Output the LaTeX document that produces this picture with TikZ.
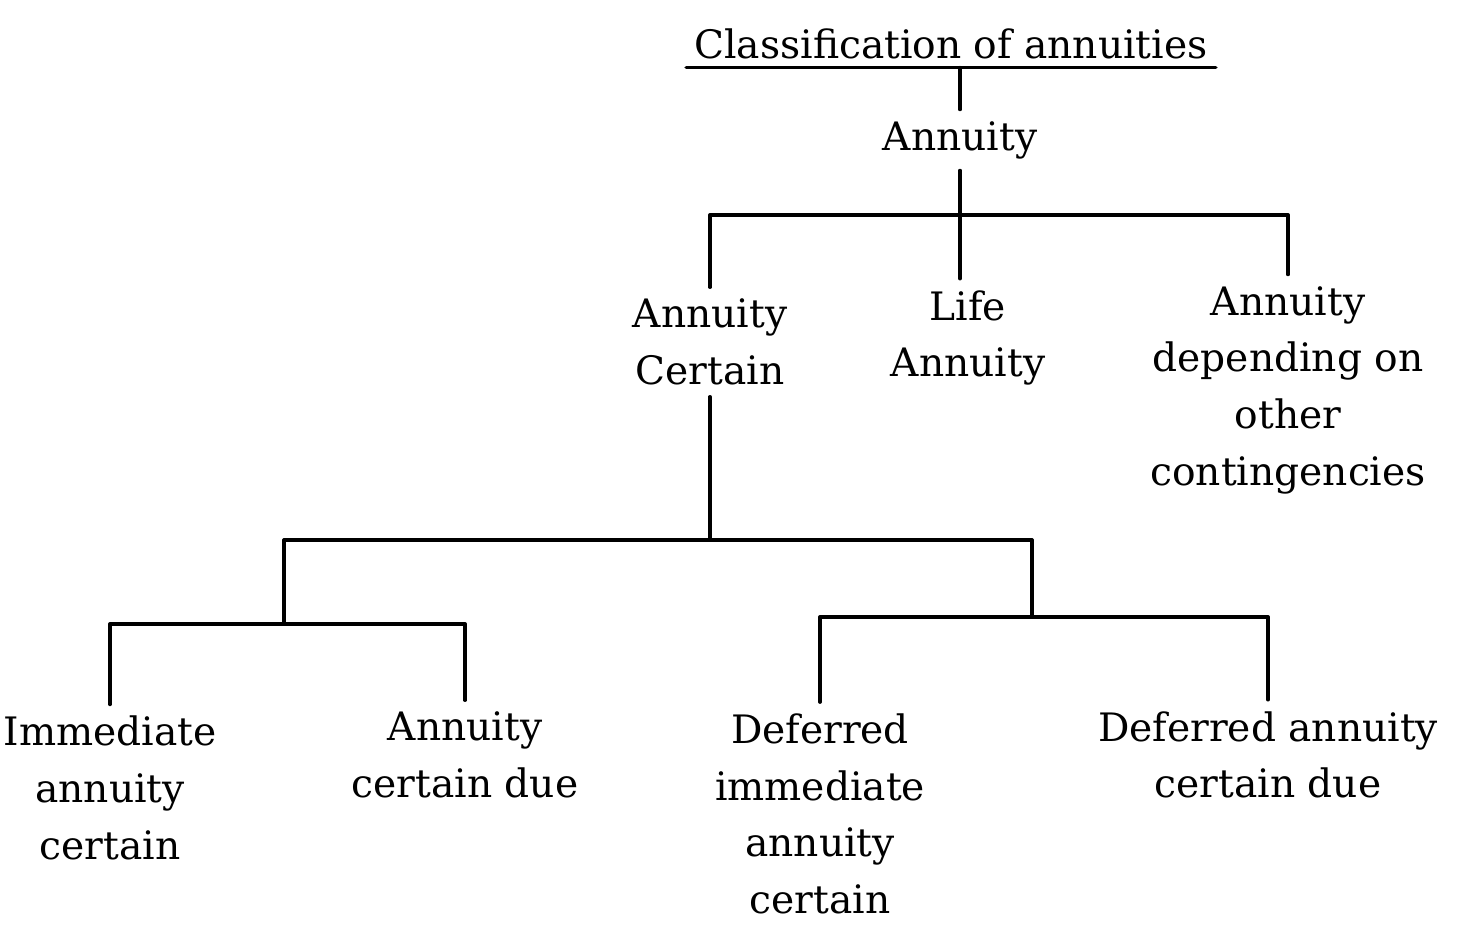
\documentclass[tikz,border=0pt]{standalone}
\usepackage{fontspec}
\setmainfont{DejaVu Serif}
\usepackage{xcolor}
\usepackage{tikz}
\usetikzlibrary{positioning}
\tikzstyle{lbl} = [align=center,inner sep=6pt,font=\fontsize{23.5}{34}\selectfont]

\begin{document}
\begin{tikzpicture}[line cap=round,line join=round,x=0.6pt,y=0.6pt,line width=2pt]
    \useasboundingbox (0,0) rectangle (1463,-934);
    % title
    \node[lbl,inner sep=4pt] (title) at (951,-44) {Classification of annuities};
    \draw (title.south west) -- (title.south east);
    \node[lbl] (ann) at (960,-140) {Annuity};
    \draw (ann.north |- title.south) -- (ann.north);
    % first level
    \node[lbl] (cert) at (710,-342) {Annuity\\Certain};
    \node[lbl] (life) at (968,-338) {Life\\Annuity};
    \node[lbl] (cont) at (1288,-390) {Annuity\\depending on\\other\\contingencies};
    \coordinate (top) at (960,-215);
    \draw (ann.south) -- (ann.south |- life.north);
    \draw (cert.north) |- (top) -| (cont.north);
    % second level
    \coordinate (k1) at (284,-540);
    \coordinate (k2) at (1032,-540);
    \coordinate (s1) at (284,-624);
    \coordinate (s2) at (1032,-617);
    \draw (cert.south) -- (cert.south |- k1);
    \draw (k1) -- (k2);
    \draw (k1) -- (s1);
    \draw (k2) -- (s2);
    \node[lbl] (imm) at (110,-788) {Immediate\\annuity\\certain};
    \node[lbl] (due) at (465,-755) {Annuity\\certain due};
    \node[lbl] (dimm) at (820,-814) {Deferred\\immediate\\annuity\\certain};
    \node[lbl] (ddue) at (1268,-755) {Deferred annuity\\certain due};
    \draw (imm.north) |- (s1) -| (due.north);
    \draw (dimm.north) |- (s2) -| (ddue.north);
\end{tikzpicture}
\end{document}
